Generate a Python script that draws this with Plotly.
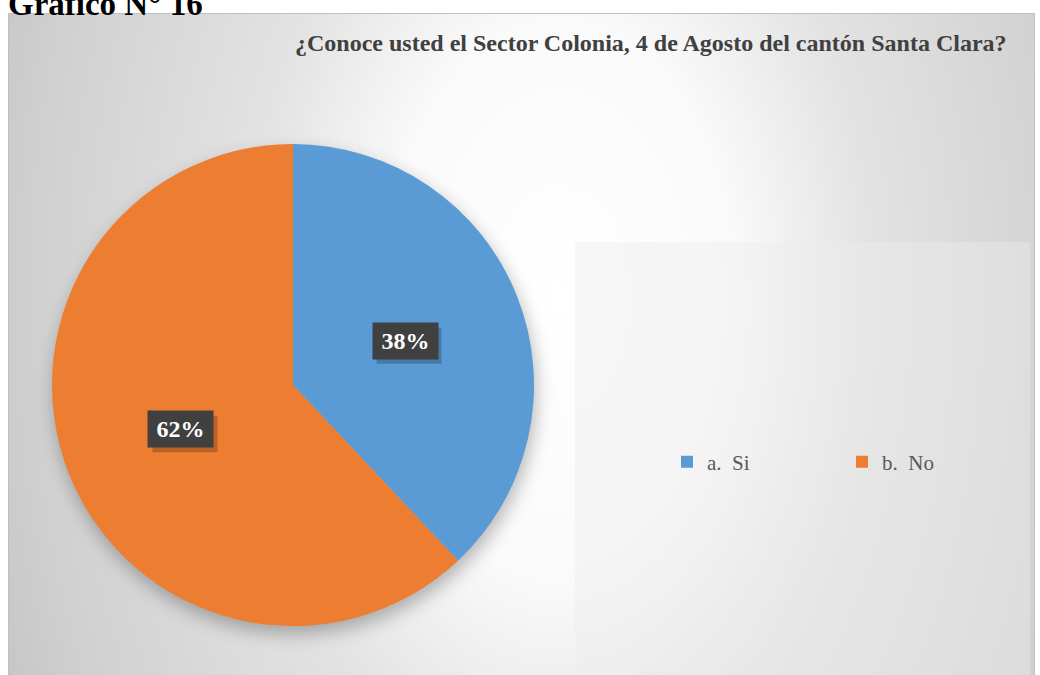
import base64
import math
import plotly.graph_objects as go

# Survey answers
labels = ["a.\u00a0 Si", "b.\u00a0 No"]
values = [38, 62]
colors = ["#5B9BD5", "#ED7D31"]

W, H = 1040, 675
title_text = "¿Conoce usted el Sector Colonia, 4 de Agosto del cantón Santa Clara?"
caption_text = "Gráfico N° 16"

# Pie placement (pixels)
cx, cy, r = 293, 385, 241

# Background: chart-area radial gradient, soft pie shadow and legend panel
bg_svg = f"""<svg xmlns='http://www.w3.org/2000/svg' width='{W}' height='{H}' viewBox='0 0 {W} {H}'>
<defs>
<radialGradient id='g' gradientUnits='userSpaceOnUse' cx='560' cy='300' r='620'
 gradientTransform='translate(560 300) scale(1 1.6) translate(-560 -300)'>
<stop offset='0' stop-color='#ffffff'/>
<stop offset='0.28' stop-color='#fafafa'/>
<stop offset='0.5' stop-color='#e3e3e3'/>
<stop offset='0.85' stop-color='#d0d0d0'/>
<stop offset='1' stop-color='#c4c4c4'/>
</radialGradient>
<filter id='b' x='-30%' y='-30%' width='160%' height='160%'><feGaussianBlur stdDeviation='9'/></filter>
</defs>
<rect x='0' y='0' width='{W}' height='{H}' fill='#ffffff'/>
<rect x='8.5' y='13.5' width='1026' height='670' fill='url(#g)' stroke='#bfbfbf' stroke-width='1'/>
<circle cx='{cx + 2}' cy='{cy + 8}' r='{r}' fill='#000000' fill-opacity='0.28' filter='url(#b)'/>
<rect x='575' y='242' width='455' height='440' fill='rgb(236,236,236)' fill-opacity='0.42'/>
</svg>"""
bg_uri = "data:image/svg+xml;base64," + base64.b64encode(bg_svg.encode("utf-8")).decode("ascii")

fig = go.Figure(
    go.Pie(
        labels=labels,
        values=values,
        sort=False,
        direction="clockwise",
        rotation=0,
        marker=dict(colors=colors, line=dict(width=0)),
        textinfo="none",
        hoverinfo="label+percent",
        domain=dict(x=[(cx - r) / W, (cx + r) / W], y=[1 - (cy + r) / H, 1 - (cy - r) / H]),
    )
)

# Percentage labels in dark boxes, placed at half radius along each slice's mid-angle
box_w, box_h = 65, 36
total = sum(values)
start = 0.0
annotations = []
shapes = []
for v in values:
    frac = v / total
    mid = (start + frac / 2) * 2 * math.pi
    start += frac
    px = cx + 0.5 * r * math.sin(mid)
    py = cy - 0.5 * r * math.cos(mid)
    txt = f"{round(100 * frac)}%"
    # drop shadow behind the label box
    sx, sy = px + 4, py + 5
    shapes.append(dict(
        type="rect", xref="paper", yref="paper", layer="above",
        x0=(sx - box_w / 2) / W, x1=(sx + box_w / 2) / W,
        y0=1 - (sy + box_h / 2) / H, y1=1 - (sy - box_h / 2) / H,
        fillcolor="rgba(0,0,0,0.22)", line=dict(width=0),
    ))
    annotations.append(dict(
        x=px / W, y=1 - py / H, xref="paper", yref="paper",
        xanchor="center", yanchor="middle",
        showarrow=False, width=box_w - 10, height=box_h - 10, borderpad=5,
        text=f"<b>{txt}</b>",
        font=dict(family="Liberation Serif", size=24, color="#ffffff"),
        bgcolor="#404040",
    ))

annotations.append(dict(
    text=f"<b>{title_text}</b>", x=293 / W, y=1 - 43 / H, xref="paper", yref="paper",
    xanchor="left", yanchor="middle", showarrow=False,
    font=dict(family="Liberation Serif", size=24, color="#404040"),
))
annotations.append(dict(
    text=f"<b>{caption_text}</b>", x=6 / W, y=1 - 24 / H, xref="paper", yref="paper",
    xanchor="left", yanchor="bottom", showarrow=False,
    font=dict(family="Liberation Serif", size=33, color="#000000"),
))

fig.update_layout(
    width=W, height=H,
    margin=dict(l=0, r=0, t=0, b=0),
    paper_bgcolor="rgba(0,0,0,0)",
    plot_bgcolor="rgba(0,0,0,0)",
    images=[dict(source=bg_uri, xref="paper", yref="paper", x=0, y=1, sizex=1, sizey=1,
                 xanchor="left", yanchor="top", sizing="stretch", layer="below")],
    shapes=shapes,
    showlegend=True,
    legend=dict(
        orientation="h", x=667 / W, y=1 - 462 / H, xanchor="left", yanchor="middle",
        entrywidth=130, bgcolor="rgba(0,0,0,0)", traceorder="normal",
        font=dict(family="Liberation Serif", size=21, color="#595959"),
    ),
    annotations=annotations,
)

fig.write_html("out.html")
